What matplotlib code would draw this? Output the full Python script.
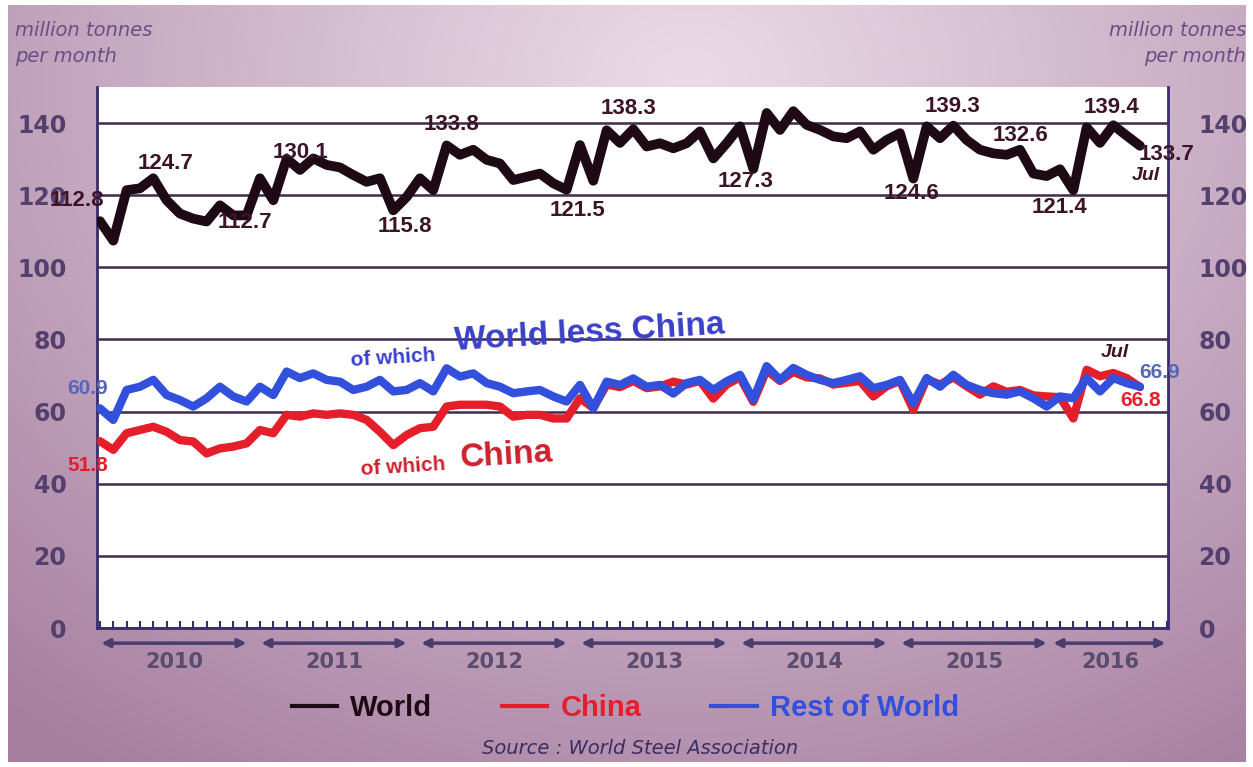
import numpy as np
import matplotlib.pyplot as plt
from matplotlib.lines import Line2D

# monthly crude steel output, Jan 2010 .. Jul 2016 (million tonnes)
months = np.arange(79)
world = [112.8, 107.4, 121.4, 121.9, 124.7, 118.6, 114.9, 113.5, 112.7, 117.2,
         114.4, 114.4, 124.7, 118.6, 130.1, 127.0, 130.2, 128.4, 127.7, 125.6,
         123.7, 124.7, 115.8, 119.5, 124.7, 121.4, 133.8, 131.2, 132.6, 129.8,
         128.8, 124.2, 125.1, 126.0, 123.3, 121.5, 133.9, 124.0, 138.0, 134.5,
         138.3, 133.5, 134.4, 133.0, 134.4, 137.7, 130.2, 134.4, 139.1, 127.3,
         142.8, 138.1, 143.3, 139.5, 138.1, 136.3, 135.8, 137.7, 132.6, 135.3,
         137.2, 124.6, 139.1, 135.8, 139.3, 135.3, 132.6, 131.6, 131.2, 132.6,
         126.0, 125.3, 127.2, 121.4, 138.8, 134.5, 139.4, 136.5, 133.7]
china = [51.8, 49.4, 54.0, 54.9, 55.8, 54.4, 52.1, 51.7, 48.4, 49.8,
         50.3, 51.2, 54.9, 54.0, 59.1, 58.6, 59.5, 59.1, 59.5, 59.1,
         57.7, 54.4, 50.7, 53.5, 55.4, 55.8, 61.4, 61.9, 61.9, 61.9,
         61.4, 58.6, 59.1, 59.1, 58.1, 58.1, 63.7, 61.0, 67.5, 66.8,
         68.5, 66.5, 67.0, 68.3, 67.5, 68.5, 63.6, 67.5, 69.5, 62.7,
         71.5, 68.5, 71.0, 69.5, 69.2, 67.5, 68.0, 68.5, 64.2, 67.0,
         68.5, 60.5, 69.0, 67.5, 69.5, 67.0, 64.7, 67.0, 65.5, 66.0,
         64.5, 64.2, 64.0, 58.1, 71.6, 69.8, 70.7, 69.3, 66.8]
rest_of_world = [60.9, 57.7, 66.0, 66.9, 68.8, 64.6, 63.2, 61.4, 63.7, 66.9,
                 64.2, 62.8, 66.9, 64.6, 71.1, 69.3, 70.6, 68.8, 68.3, 66.0,
                 66.9, 68.8, 65.6, 66.0, 67.9, 65.6, 72.0, 69.7, 70.6, 67.9,
                 66.9, 65.1, 65.6, 66.0, 64.2, 62.8, 67.4, 60.9, 68.3, 67.4,
                 69.2, 66.9, 67.4, 65.0, 67.9, 68.8, 66.0, 68.4, 70.2, 63.3,
                 72.6, 68.8, 72.1, 70.2, 68.8, 67.9, 68.8, 69.8, 66.5, 67.4,
                 68.8, 62.3, 69.3, 66.9, 70.2, 67.4, 66.0, 65.1, 64.7, 65.6,
                 63.7, 61.4, 64.2, 63.7, 69.3, 65.6, 69.3, 67.9, 66.9]
years = ['2010', '2011', '2012', '2013', '2014', '2015', '2016']
y_ticks = [0, 20, 40, 60, 80, 100, 120, 140]

# which world points get a value label, with the label offset in pixels
world_labels = [(0, -23, 21), (4, 12, 15), (8, 38, -1), (14, 14, 6),
                (22, 12, -16), (26, 5, 21), (35, 11, -21), (40, -5, 21),
                (49, -8, -13), (61, -2, -15), (64, -1, 19), (69, 1, 14),
                (73, -14, -17), (76, -2, 18), (78, 27, -9)]

W, H = 1253, 767
BLACK = '#1e0a14'
RED = '#e41e2a'
BLUE = '#3350dc'
FRAME = '#3a2c6c'
LABEL = '#3c1428'

fig = plt.figure(figsize=(W / 100, H / 100), dpi=100)
fig.patch.set_facecolor('white')

# mauve backdrop, lighter towards the top middle
bg = fig.add_axes([0.006, 0.006, 0.988, 0.988])
yy, xx = np.mgrid[0:1:300j, 0:1:500j]
d = np.sqrt(((xx - 0.55) / 0.85) ** 2 + ((yy - 0.1) / 1.1) ** 2)
t = np.clip(d, 0, 1) ** 1.1
light = np.array([234, 218, 230]) / 255
dark = np.array([166, 126, 160]) / 255
bg.imshow(light * (1 - t[..., None]) + dark * t[..., None], aspect='auto')
bg.axis('off')

ax = fig.add_axes([97 / W, 1 - 628 / H, (1168 - 97) / W, (628 - 87) / H])
ax.set_facecolor('white')
ax.set_xlim(-0.22, 80.1)
ax.set_ylim(0, 150)

ax.plot(months, china, color=RED, lw=6, solid_joinstyle='round',
        solid_capstyle='round', zorder=3)
ax.plot(months, rest_of_world, color=BLUE, lw=6, solid_joinstyle='round',
        solid_capstyle='round', zorder=4)
ax.plot(months, world, color=BLACK, lw=7, solid_joinstyle='round',
        solid_capstyle='round', zorder=5)

for i, dx, dy in world_labels:
    ax.annotate(f'{world[i]:.1f}', (months[i], world[i]), xytext=(dx, dy),
                textcoords='offset pixels', ha='center', va='center',
                fontsize=16, fontweight='bold', family='Liberation Sans',
                color=LABEL, zorder=6)
ax.annotate('Jul', (months[-1], world[-1]), xytext=(6, -30),
            textcoords='offset pixels', ha='center', va='center',
            fontsize=14, fontweight='bold', style='italic',
            family='Liberation Sans', color=LABEL, zorder=6)

ax.annotate(f'{rest_of_world[0]:.1f}', (0, rest_of_world[0]), xytext=(-12, 20),
            textcoords='offset pixels', ha='center', va='center', fontsize=15,
            fontweight='bold', family='Liberation Sans', color='#5566b8')
ax.annotate(f'{china[0]:.1f}', (0, china[0]), xytext=(-12, -24),
            textcoords='offset pixels', ha='center', va='center', fontsize=15,
            fontweight='bold', family='Liberation Sans', color=RED)
ax.annotate(f'{rest_of_world[-1]:.1f}', (months[-1], rest_of_world[-1]),
            xytext=(20, 14), textcoords='offset pixels', ha='center',
            va='center', fontsize=15, fontweight='bold',
            family='Liberation Sans', color='#5566b8')
ax.annotate(f'{china[-1]:.1f}', (months[-1], china[-1]), xytext=(1, -13),
            textcoords='offset pixels', ha='center', va='center', fontsize=15,
            fontweight='bold', family='Liberation Sans', color=RED)
ax.annotate('Jul', (months[-1], china[-1]), xytext=(-25, 35),
            textcoords='offset pixels', ha='center', va='center', fontsize=14,
            fontweight='bold', style='italic', family='Liberation Sans',
            color=LABEL)

# series captions inside the plot
cap = dict(ha='center', va='center', rotation=3.5, rotation_mode='anchor',
           fontweight='bold', family='Liberation Sans', zorder=6)
ax.text(22.0, 75.0, 'of which', fontsize=15, color='#3a40c8', **cap)
ax.text(36.7, 81.7, 'World less China', fontsize=24, color='#3a40c8', **cap)
ax.text(22.7, 44.7, 'of which', fontsize=15, color='#d0202e', **cap)
ax.text(30.5, 47.8, 'China', fontsize=24, color='#d0202e', **cap)

# frame, grid and ticks
for side in ['left', 'right', 'bottom']:
    ax.spines[side].set_color(FRAME)
    ax.spines[side].set_linewidth(2)
ax.spines['top'].set_visible(False)
ax.set_yticks(y_ticks)
ax.set_yticklabels([str(v) for v in y_ticks], fontweight='bold',
                   family='DejaVu Sans')
ax.tick_params(axis='y', length=0, pad=22, labelsize=17, labelcolor='#54406e',
               labelright=True)
ax.set_xticks(np.arange(0, 81))
ax.tick_params(axis='x', direction='in', length=5, width=1.5, color=FRAME,
               labelbottom=False)
ax.yaxis.grid(True, color='#3d2a4d', lw=1.8)
ax.set_axisbelow(True)

# year spans under the axis
for k, year in enumerate(years):
    start, end, mid = 12 * k + 0.1, 12 * k + 11.0, 12 * k + 5.6
    if k == len(years) - 1:
        start, end, mid = 71.5, 79.9, 75.8
    ax.annotate('', xy=(start, -0.028), xytext=(end, -0.028),
                xycoords=('data', 'axes fraction'),
                arrowprops=dict(arrowstyle='<|-|>', color='#4b3c6e', lw=2.5,
                                mutation_scale=12, shrinkA=0, shrinkB=0),
                annotation_clip=False)
    ax.text(mid, -0.063, year, transform=ax.get_xaxis_transform(),
            ha='center', va='center', fontsize=15, fontweight='bold',
            color='#5a4c70')

# unit captions
unit = dict(style='italic', fontsize=14, color='#6b4d86', va='center')
fig.text(15 / W, 1 - 31 / H, 'million tonnes', ha='left', **unit)
fig.text(15 / W, 1 - 56 / H, 'per month', ha='left', **unit)
fig.text(1246 / W, 1 - 31 / H, 'million tonnes', ha='right', **unit)
fig.text(1246 / W, 1 - 56 / H, 'per month', ha='right', **unit)

handles = [Line2D([], [], color=c, lw=3) for c in (BLACK, RED, BLUE)]
leg = fig.legend(handles, ['World', 'China', 'Rest of World'], loc='center',
                 bbox_to_anchor=(0.499, 1 - 708 / H), ncol=3, frameon=False,
                 prop={'family': 'Liberation Sans', 'weight': 'bold',
                       'size': 21},
                 handlelength=1.55, handletextpad=0.45, columnspacing=2.4)
for txt, c in zip(leg.get_texts(), (BLACK, RED, BLUE)):
    txt.set_color(c)

fig.text(640 / W, 1 - 748 / H, 'Source : World Steel Association',
         ha='center', va='center', style='italic', fontsize=14,
         color='#3c2d60')

fig.savefig('out.png', dpi=100)
